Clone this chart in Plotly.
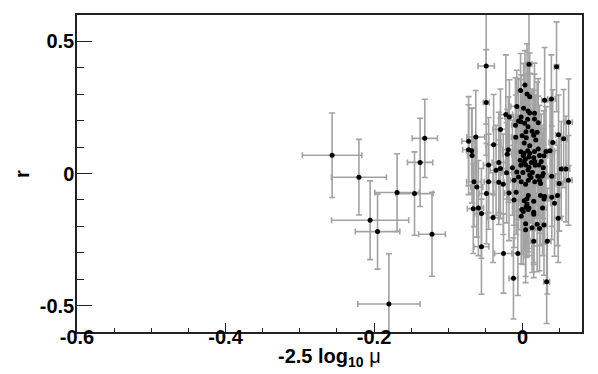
import plotly.graph_objects as go

# ---- data ----
outlier_x = [-0.2565, -0.2204, -0.2053, -0.1953, -0.169, -0.1455, -0.138, -0.1317, -0.122, -0.180]
outlier_y = [0.069, -0.014, -0.177, -0.220, -0.072, -0.076, 0.042, 0.133, -0.230, -0.494]
outlier_ex = [0.040, 0.037, 0.052, 0.030, 0.030, 0.025, 0.017, 0.017, 0.018, 0.042]
outlier_ey = [0.160, 0.143, 0.149, 0.142, 0.147, 0.158, 0.167, 0.148, 0.159, 0.190]

cluster_x = [
    -0.049, -0.049, 0.0086, 0.0457, 0.0032, -0.0027, 0.006, 0.0096, 0.0297, 0.0388,
    -0.0078, -0.0225, -0.0178, -0.002, 0.0073, 0.0096, 0.0068, 0.016, 0.021, -0.0055,
    -0.0096, 0.062, -0.0298, 0.0045, 0.0128, 0.0196, 0.015, 0.0484, 0.0553, 0.0178,
    -0.063, -0.0727, 0.0406, -0.039, -0.0727, -0.0686, -0.068, -0.0192, -0.0206, 0.0069,
    0.0096, 0.016, 0.021, 0.0315, 0.037, 0.0009, 0.015, 0.0228, -0.0032, 0.0036,
    0.0118, 0.0164, -0.032, -0.0458, 0.0041, 0.022, 0.0278, 0.0086, -0.0137, -0.0357,
    -0.0298, -0.0078, 0.0004, 0.0132, 0.0278, 0.052, 0.0585, -0.0654, -0.0617, -0.0458,
    -0.032, -0.026, -0.0115, -0.0055, -0.0019, 0.0041, 0.0077, 0.0114, 0.0164, 0.0228,
    0.0242, 0.0205, 0.0393, 0.0494, 0.0617, -0.0486, -0.0183, -0.0087, 0.0077, 0.0059,
    0.0242, 0.0297, 0.0393, 0.047, -0.0115, 0.015, 0.043, -0.0664, -0.0595, 0.0045,
    0.0077, 0.0269, 0.0009, -0.0554, 0.015, -0.0019, -0.0398, 0.048, 0.0041, 0.0128,
    0.0196, 0.0288, 0.015, 0.0333, -0.0554, -0.0257, -0.0064, -0.0123, 0.0324, 0.0013,
    0.016, -0.0023, 0.0027, 0.0073, -0.0005, 0.0049, -0.0092, 0.0022, 0.0096, -0.0023,
    0.0018, 0.0086, 0.0022, 0.0169, -0.0023, 0.0073, 0.0096, 0.0265, 0.0022, 0.0059,
    -0.001, 0.0086, 0.015, 0.0228, 0.0041, 0.0288, 0.0251, -0.0215, 0.0288,
]
cluster_y = [
    0.407, 0.269, 0.414, 0.404, 0.335, 0.314, 0.301, 0.291, 0.277, 0.282,
    0.254, 0.223, 0.214, 0.214, 0.237, 0.229, 0.205, 0.206, 0.192, 0.199,
    0.183, 0.194, 0.167, 0.158, 0.160, 0.156, 0.145, 0.147, 0.132, 0.127,
    0.138, 0.122, 0.117, 0.109, 0.090, 0.086, 0.068, 0.090, 0.073, 0.086,
    0.077, 0.083, 0.093, 0.083, 0.086, 0.068, 0.060, 0.068, 0.050, 0.054,
    0.042, 0.045, 0.042, 0.032, 0.032, 0.032, 0.022, 0.024, 0.022, 0.012,
    0.019, 0.006, 0.004, 0.004, 0.000, 0.017, 0.017, -0.031, -0.051, -0.031,
    -0.033, -0.041, -0.026, -0.013, -0.031, -0.041, -0.026, -0.015, -0.031, -0.026,
    -0.038, -0.010, -0.010, -0.038, -0.026, -0.076, -0.074, -0.071, -0.083, -0.096,
    -0.083, -0.087, -0.090, -0.083, -0.100, -0.105, -0.113, -0.133, -0.131, -0.128,
    -0.136, -0.131, -0.144, -0.151, -0.154, -0.162, -0.167, -0.169, -0.190, -0.205,
    -0.192, -0.195, -0.256, -0.256, -0.277, -0.303, -0.303, -0.397, -0.410, 0.247,
    0.228, 0.196, 0.190, 0.177, 0.143, 0.135, 0.137, 0.115, 0.105, 0.082,
    0.077, 0.062, 0.041, 0.031, 0.031, 0.013, -0.006, -0.009, -0.103, -0.115,
    -0.136, -0.131, -0.147, -0.208, -0.213, 0.067, 0.045, 0.003, -0.097,
]
cluster_ex = [
    0.011, 0.004, 0.004, 0.003, 0.005, 0.004, 0.006, 0.004, 0.004, 0.005,
    0.008, 0.009, 0.006, 0.005, 0.004, 0.003, 0.004, 0.005, 0.004, 0.006,
    0.005, 0.005, 0.010, 0.004, 0.004, 0.005, 0.003, 0.004, 0.005, 0.004,
    0.012, 0.009, 0.005, 0.010, 0.008, 0.007, 0.006, 0.008, 0.006, 0.004,
    0.005, 0.004, 0.005, 0.004, 0.006, 0.004, 0.003, 0.004, 0.005, 0.004,
    0.004, 0.005, 0.009, 0.007, 0.004, 0.004, 0.005, 0.003, 0.006, 0.008,
    0.007, 0.005, 0.004, 0.004, 0.005, 0.004, 0.005, 0.010, 0.008, 0.006,
    0.007, 0.006, 0.005, 0.004, 0.004, 0.005, 0.004, 0.003, 0.004, 0.005,
    0.004, 0.004, 0.005, 0.004, 0.005, 0.010, 0.006, 0.005, 0.004, 0.004,
    0.005, 0.004, 0.005, 0.004, 0.006, 0.004, 0.005, 0.008, 0.007, 0.004,
    0.004, 0.005, 0.004, 0.009, 0.004, 0.005, 0.008, 0.005, 0.004, 0.004,
    0.005, 0.004, 0.004, 0.005, 0.010, 0.012, 0.008, 0.006, 0.004, 0.005,
    0.004, 0.006, 0.005, 0.004, 0.005, 0.004, 0.006, 0.005, 0.004, 0.005,
    0.004, 0.005, 0.004, 0.006, 0.004, 0.005, 0.004, 0.005, 0.006, 0.004,
    0.005, 0.004, 0.005, 0.006, 0.004, 0.005, 0.004, 0.007, 0.004,
]
cluster_ey = [
    0.220, 0.200, 0.220, 0.170, 0.130, 0.140, 0.190, 0.165, 0.200, 0.167,
    0.137, 0.226, 0.141, 0.160, 0.180, 0.150, 0.200, 0.170, 0.167, 0.160,
    0.180, 0.164, 0.153, 0.180, 0.160, 0.190, 0.170, 0.150, 0.186, 0.170,
    0.176, 0.169, 0.200, 0.190, 0.170, 0.160, 0.180, 0.200, 0.170, 0.190,
    0.160, 0.180, 0.200, 0.170, 0.190, 0.180, 0.160, 0.190, 0.170, 0.200,
    0.180, 0.160, 0.190, 0.180, 0.170, 0.190, 0.160, 0.200, 0.180, 0.170,
    0.190, 0.180, 0.160, 0.190, 0.170, 0.180, 0.200, 0.170, 0.190, 0.180,
    0.160, 0.190, 0.170, 0.200, 0.180, 0.160, 0.190, 0.170, 0.180, 0.200,
    0.170, 0.160, 0.190, 0.180, 0.170, 0.190, 0.180, 0.160, 0.200, 0.170,
    0.190, 0.180, 0.160, 0.190, 0.180, 0.170, 0.200, 0.170, 0.180, 0.190,
    0.160, 0.180, 0.200, 0.170, 0.190, 0.180, 0.170, 0.168, 0.200, 0.170,
    0.180, 0.190, 0.138, 0.200, 0.180, 0.150, 0.159, 0.154, 0.158, 0.170,
    0.190, 0.160, 0.180, 0.200, 0.170, 0.190, 0.160, 0.180, 0.200, 0.170,
    0.190, 0.160, 0.180, 0.200, 0.170, 0.190, 0.180, 0.160, 0.190, 0.200,
    0.170, 0.180, 0.190, 0.160, 0.200, 0.170, 0.180, 0.190, 0.170,
]

x_ticks = [-0.6, -0.4, -0.2, 0]
x_tick_labels = ["-0.6", "-0.4", "-0.2", "0"]
y_ticks = [-0.5, 0, 0.5]
y_tick_labels = ["-0.5", "0", "0.5"]

FONT = "Liberation Sans, Arial, Helvetica, sans-serif"
BAR = "#a3a3a3"

fig = go.Figure()
for xs, ys, exs, eys in [(outlier_x, outlier_y, outlier_ex, outlier_ey),
                         (cluster_x, cluster_y, cluster_ex, cluster_ey)]:
    fig.add_trace(go.Scatter(
        x=xs, y=ys, mode="markers",
        marker=dict(color="black", size=5),
        error_x=dict(type="data", array=exs, color=BAR, thickness=1.6, width=3),
        error_y=dict(type="data", array=eys, color=BAR, thickness=1.6, width=3),
        showlegend=False, cliponaxis=True,
    ))

axis_common = dict(
    showgrid=False, zeroline=False, showline=True, mirror=True,
    linecolor="#222", linewidth=1.5, ticks="inside", tickcolor="#222",
    tickwidth=1.2, tickfont=dict(family=FONT, size=20, color="black", weight="bold"),
)

# the page body adds an 8px offset, so the figure is sized to compensate
fig.update_layout(
    width=590, height=366,
    margin=dict(l=69, r=16, t=7, b=42, autoexpand=False),
    paper_bgcolor="white", plot_bgcolor="white",
    xaxis=dict(range=[-0.6, 0.08], tickmode="array", tickvals=x_ticks, ticktext=x_tick_labels,
               ticklen=9, ticklabelstandoff=-14,
               minor=dict(tickmode="linear", tick0=-0.6, dtick=0.05, ticklen=4.5,
                          ticks="inside", tickcolor="#222", tickwidth=1.2),
               **axis_common),
    yaxis=dict(range=[-0.6, 0.6], tickmode="array", tickvals=y_ticks, ticktext=y_tick_labels,
               ticklen=15, ticklabelstandoff=-3,
               minor=dict(tickmode="linear", tick0=-0.6, dtick=0.1, ticklen=7,
                          ticks="inside", tickcolor="#222", tickwidth=1.2),
               **axis_common),
    annotations=[
        dict(text="-2.5 log<sub>10</sub> <span style='font-weight:normal'>μ</span>",
             xref="paper", yref="paper", x=0.5, y=-0.082, xanchor="center", yanchor="middle",
             showarrow=False, font=dict(family=FONT, size=20, color="black", weight="bold")),
        dict(text="r", xref="paper", yref="paper", x=-0.11, y=0.5, xanchor="center",
             yanchor="middle", textangle=-90, showarrow=False,
             font=dict(family=FONT, size=20, color="black", weight="bold")),
    ],
)

fig.write_html("out.html")
